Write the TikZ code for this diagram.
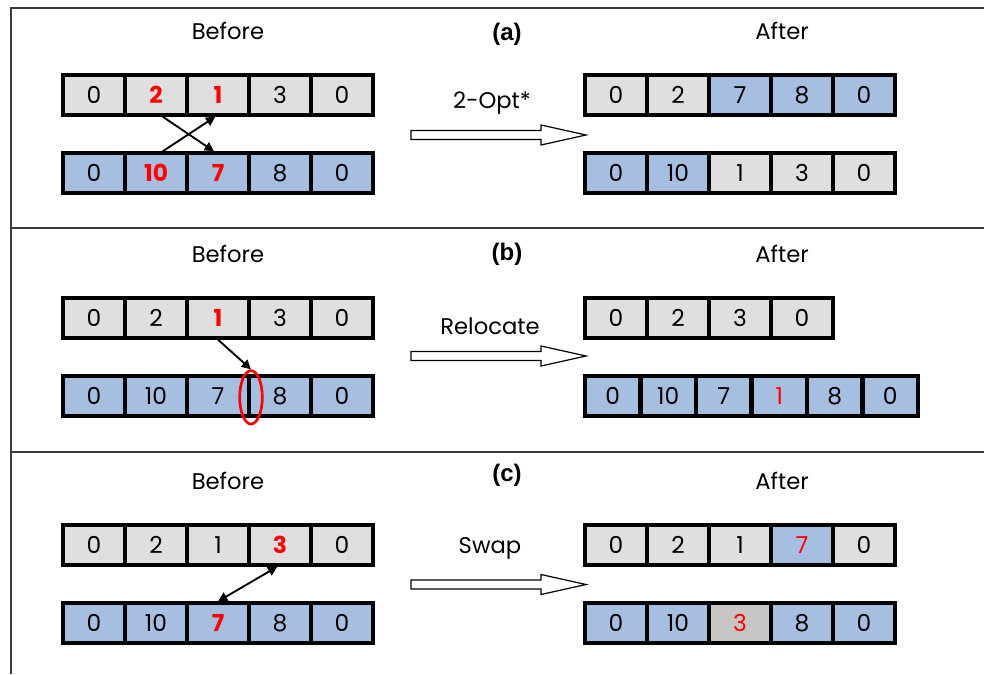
\documentclass[tikz,border=0pt]{standalone}
\usepackage{fontspec}
\setmainfont{Poppins}
\newfontfamily\tagfont{Liberation Sans}
\usetikzlibrary{shapes,arrows.meta,positioning}
\definecolor{cellgray}{RGB}{224,223,224}
\definecolor{cellblue}{RGB}{166,190,224}
\definecolor{cellswap}{RGB}{200,198,196}
\definecolor{framegray}{RGB}{60,60,60}
\newcommand{\rb}[1]{\textcolor{red}{\textbf{#1}}}
\newcommand{\rn}[1]{\textcolor{red}{#1}}

\begin{document}
\begin{tikzpicture}[x=0.75pt,y=-0.75pt]
  \tikzstyle{cell} = [rectangle, draw, line width=3pt, minimum width=46.5pt, minimum height=29.5pt, inner sep=0pt, font=\fontsize{17.5}{17.5}\selectfont]
  \tikzstyle{narrow} = [cell, minimum width=41.6pt]
  \tikzstyle{title} = [font=\fontsize{17}{17}\selectfont]
  \tikzstyle{paneltag} = [font={\tagfont\bfseries\fontsize{18}{18}\selectfont}]
  \tikzstyle{move} = [-{Triangle[length=7pt,width=7pt]}, line width=1.4pt]
  \tikzstyle{swap} = [{Triangle[length=7pt,width=7pt]}-{Triangle[length=7pt,width=7pt]}, line width=1.4pt]
  \tikzstyle{bigarrow} = [draw, line width=0.9pt, fill=white]

  \useasboundingbox (0,0) rectangle (984,674);

  % frame
  \draw[line width=1.5pt, framegray] (11,674) -- (11,8) -- (984,8);
  \draw[line width=1.5pt, framegray] (11,228) -- (984,228);
  \draw[line width=1.5pt, framegray] (11,452) -- (984,452);

  % (a) 2-Opt*
  \node[title] (beforea) at (228,31) {Before};
  \node[paneltag] (taga) at (507,34) {(a)};
  \node[title] (aftera) at (782,31) {After};
  \foreach \v/\c [count=\i] in {0/cellgray, {\rb{2}}/cellgray, {\rb{1}}/cellgray, 3/cellgray, 0/cellgray}
    \node[cell, fill=\c] (at\i) at (32+62*\i,95) {\v};
  \foreach \v/\c [count=\i] in {0/cellblue, {\rb{10}}/cellblue, {\rb{7}}/cellblue, 8/cellblue, 0/cellblue}
    \node[cell, fill=\c] (ab\i) at (32+62*\i,173) {\v};
  \foreach \v/\c [count=\i] in {0/cellgray, 2/cellgray, 7/cellblue, 8/cellblue, 0/cellblue}
    \node[cell, fill=\c] (ax\i) at (554+62*\i,95) {\v};
  \foreach \v/\c [count=\i] in {0/cellblue, 10/cellblue, 1/cellgray, 3/cellgray, 0/cellgray}
    \node[cell, fill=\c] (ay\i) at (554+62*\i,173) {\v};
  \node[title] (opa) at (492,103) {2-Opt*};
  \draw[bigarrow] (411,130.5) -- (541,130.5) -- (541,125) -- (586,135) -- (541,145) -- (541,139.5) -- (411,139.5) -- cycle;
  \draw[move] ([xshift=5pt]at2.south) -- ([xshift=-3pt]ab3.north);
  \draw[move] ([xshift=5pt]ab2.north) -- ([xshift=-2pt]at3.south);

  % (b) Relocate
  \node[title] (beforeb) at (228,254) {Before};
  \node[paneltag] (tagb) at (507,254) {(b)};
  \node[title] (afterb) at (782,254) {After};
  \foreach \v/\c [count=\i] in {0/cellgray, 2/cellgray, {\rb{1}}/cellgray, 3/cellgray, 0/cellgray}
    \node[cell, fill=\c] (bt\i) at (32+62*\i,318) {\v};
  \foreach \v/\c [count=\i] in {0/cellblue, 10/cellblue, 7/cellblue, 8/cellblue, 0/cellblue}
    \node[cell, fill=\c] (bb\i) at (32+62*\i,396) {\v};
  \foreach \v/\c [count=\i] in {0/cellgray, 2/cellgray, 3/cellgray, 0/cellgray}
    \node[cell, fill=\c] (bx\i) at (554+62*\i,318) {\v};
  \foreach \v/\c [count=\i] in {0/cellblue, 10/cellblue, 7/cellblue, {\rn{1}}/cellblue, 8/cellblue, 0/cellblue}
    \node[narrow, fill=\c] (by\i) at (557.25+55.5*\i,396) {\v};
  \node[title] (opb) at (490,326) {Relocate};
  \draw[bigarrow] (411,351.5) -- (541,351.5) -- (541,346) -- (586,356) -- (541,366) -- (541,360.5) -- (411,360.5) -- cycle;
  \node[draw=red, ellipse, line width=2pt, minimum width=17pt, minimum height=40pt, inner sep=0pt] (gap) at ([yshift=-1pt]bb3.east) {};
  \draw[move] (bt3.south) -- (gap.north);

  % (c) Swap
  \node[title] (beforec) at (228,481) {Before};
  \node[paneltag] (tagc) at (507,475) {(c)};
  \node[title] (afterc) at (782,481) {After};
  \foreach \v/\c [count=\i] in {0/cellgray, 2/cellgray, 1/cellgray, {\rb{3}}/cellgray, 0/cellgray}
    \node[cell, fill=\c] (ct\i) at (32+62*\i,545) {\v};
  \foreach \v/\c [count=\i] in {0/cellblue, 10/cellblue, {\rb{7}}/cellblue, 8/cellblue, 0/cellblue}
    \node[cell, fill=\c] (cb\i) at (32+62*\i,623) {\v};
  \foreach \v/\c [count=\i] in {0/cellgray, 2/cellgray, 1/cellgray, {\rn{7}}/cellblue, 0/cellgray}
    \node[cell, fill=\c] (cx\i) at (554+62*\i,545) {\v};
  \foreach \v/\c [count=\i] in {0/cellblue, 10/cellblue, {\rn{3}}/cellswap, 8/cellblue, 0/cellblue}
    \node[cell, fill=\c] (cy\i) at (554+62*\i,623) {\v};
  \node[title] (opc) at (490,548) {Swap};
  \draw[bigarrow] (411,580) -- (541,580) -- (541,574.5) -- (586,584.5) -- (541,594.5) -- (541,589) -- (411,589) -- cycle;
  \draw[swap] ([xshift=-2pt]ct4.south) -- (cb3.north);
\end{tikzpicture}
\end{document}
